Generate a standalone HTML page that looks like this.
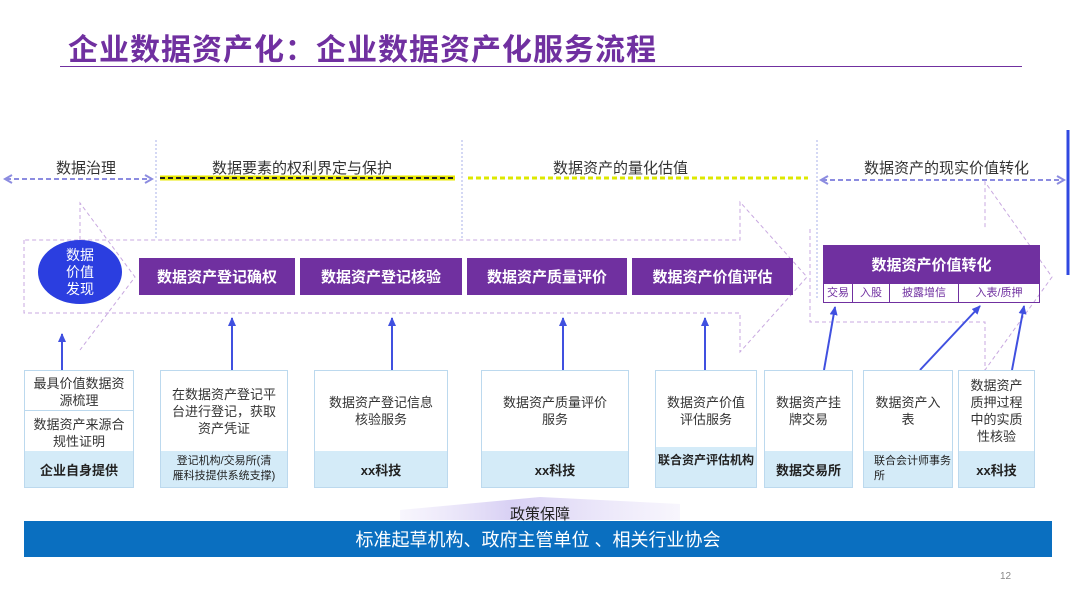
<!DOCTYPE html>
<html><head><meta charset="utf-8"><style>
body{margin:0;width:1080px;height:610px;background:#fff;position:relative;overflow:hidden;font-family:"Liberation Sans","Noto Sans CJK SC",sans-serif}
.a{position:absolute}
.pb{position:absolute;background:#7030a0;color:#fff;font-weight:bold;font-size:15px;display:flex;align-items:center;justify-content:center}
.bx{position:absolute;border:1px solid #bcd9ee;background:#fff;box-sizing:border-box}
.bx .t{position:absolute;left:0;right:0;top:0;bottom:36px;display:flex;align-items:center;justify-content:center;text-align:center;font-size:13px;color:#333;line-height:17px;padding:0 4px}
.bx .f{position:absolute;left:0;right:0;bottom:0;height:36px;background:#d4ebf8;display:flex;align-items:center;justify-content:center;text-align:center;font-size:13px;color:#222;font-weight:bold}
.lab{position:absolute;font-size:15px;color:#333;top:157px}
</style></head><body>
<div class="a" style="left:68px;top:25px;font-size:30px;font-weight:bold;color:#7030a0;letter-spacing:1px">企业数据资产化：企业数据资产化服务流程</div>
<div class="a" style="left:60px;top:66px;width:962px;height:1px;background:#7030a0"></div>

<svg class="a" style="left:0;top:0" width="1080" height="610">
<defs><marker id="ah" markerUnits="userSpaceOnUse" markerWidth="10" markerHeight="10" refX="8" refY="5" orient="auto"><path d="M0,1 L9,5 L0,9 Z" fill="#4050e0"/></marker></defs>
<g stroke="#aab0e8" stroke-dasharray="2,2" stroke-width="1">
<line x1="156" y1="140" x2="156" y2="240"/><line x1="462" y1="140" x2="462" y2="240"/><line x1="817" y1="140" x2="817" y2="300"/></g>
<g stroke="#8c8ce0" stroke-width="2" stroke-dasharray="5,3" fill="none">
<line x1="6" y1="179" x2="150" y2="179"/><line x1="822" y1="180" x2="1062" y2="180"/></g>
<path d="M12,175 L5,179 L12,183 M145,175 L152,179 L145,183 M828,176 L821,180 L828,184 M1057,176 L1064,180 L1057,184" stroke="#8c8ce0" stroke-width="2" fill="none"/>
<line x1="160" y1="178" x2="455" y2="178" stroke="#e8e800" stroke-width="5"/>
<line x1="160" y1="178" x2="455" y2="178" stroke="#222" stroke-width="2" stroke-dasharray="5,3"/>
<line x1="468" y1="178" x2="808" y2="178" stroke="#dde800" stroke-width="3" stroke-dasharray="5,3"/>
<line x1="1068" y1="130" x2="1068" y2="275" stroke="#3048e0" stroke-width="3"/>
<g stroke="#c8a8e0" stroke-width="1" stroke-dasharray="4,3" fill="none">
<path d="M24,240 L24,313 L740,313 L740,352 L807,277 L740,202 L740,240 Z"/>
<path d="M80,240 L80,203 L135,277 L80,350"/>
<path d="M810,229 L810,322 L985,322 L985,370 L1052,277 L985,182 L985,229"/>
</g>
<g stroke="#4050e0" stroke-width="2" marker-end="url(#ah)">
<line x1="62" y1="370" x2="62" y2="334"/><line x1="232" y1="370" x2="232" y2="318"/><line x1="392" y1="370" x2="392" y2="318"/><line x1="563" y1="370" x2="563" y2="318"/><line x1="705" y1="370" x2="705" y2="318"/>
<line x1="824" y1="370" x2="835" y2="307"/><line x1="920" y1="370" x2="980" y2="306"/><line x1="1012" y1="370" x2="1024" y2="306"/></g>
<defs><linearGradient id="pg" x1="0" x2="1"><stop offset="0" stop-color="#e6e0f8" stop-opacity="0.3"/><stop offset="0.4" stop-color="#d8d0f4"/><stop offset="1" stop-color="#e6e0f8" stop-opacity="0.3"/></linearGradient></defs>
<polygon points="400,520 680,520 680,504 540,497 400,510" fill="url(#pg)"/>
</svg>

<div class="lab" style="left:56px">数据治理</div>
<div class="lab" style="left:212px">数据要素的权利界定与保护</div>
<div class="lab" style="left:553px">数据资产的量化估值</div>
<div class="lab" style="left:864px">数据资产的现实价值转化</div>

<div class="a" style="left:38px;top:240px;width:84px;height:64px;border-radius:50%;background:#2b3ee0;color:#fff;font-size:14px;line-height:17px;text-align:center;display:flex;align-items:center;justify-content:center">数据<br>价值<br>发现</div>
<div class="pb" style="left:139px;top:258px;width:156px;height:37px">数据资产登记确权</div>
<div class="pb" style="left:300px;top:258px;width:162px;height:37px">数据资产登记核验</div>
<div class="pb" style="left:467px;top:258px;width:160px;height:37px">数据资产质量评价</div>
<div class="pb" style="left:632px;top:258px;width:161px;height:37px">数据资产价值评估</div>
<div class="pb" style="left:823px;top:245px;width:217px;height:38px">数据资产价值转化</div>
<div class="a" style="left:823px;top:283px;width:217px;height:20px;border:1px solid #7030a0;box-sizing:border-box;font-size:11px;color:#7030a0;display:flex">
<div style="width:28px;text-align:center;border-right:1px solid #7030a0;line-height:18px">交易</div>
<div style="width:36px;text-align:center;border-right:1px solid #7030a0;line-height:18px">入股</div>
<div style="width:68px;text-align:center;border-right:1px solid #7030a0;line-height:18px">披露增信</div>
<div style="flex:1;text-align:center;line-height:18px">入表/质押</div></div>

<div class="bx" style="left:24px;top:370px;width:110px;height:118px"><div style="position:absolute;left:0;right:0;top:0;height:40px;border-bottom:1px solid #bcd9ee;font-size:13px;line-height:17px;text-align:center;padding-top:4px;color:#333;box-sizing:border-box">最具价值数据资<br>源梳理</div><div style="position:absolute;left:0;right:0;top:45px;font-size:13px;line-height:17px;text-align:center;color:#333">数据资产来源合<br>规性证明</div><div class="f">企业自身提供</div></div>
<div class="bx" style="left:160px;top:370px;width:128px;height:118px"><div class="t">在数据资产登记平<br>台进行登记，获取<br>资产凭证</div><div class="f" style="font-weight:normal;font-size:11px;line-height:15px">登记机构/交易所(清<br>雁科技提供系统支撑)</div></div>
<div class="bx" style="left:314px;top:370px;width:134px;height:118px"><div class="t">数据资产登记信息<br>核验服务</div><div class="f">xx科技</div></div>
<div class="bx" style="left:481px;top:370px;width:148px;height:118px"><div class="t">数据资产质量评价<br>服务</div><div class="f">xx科技</div></div>
<div class="bx" style="left:655px;top:370px;width:102px;height:118px"><div class="t">数据资产价值<br>评估服务</div><div class="f" style="font-size:12px;align-items:flex-start;padding-top:4px">联合资产评估机构</div></div>
<div class="bx" style="left:764px;top:370px;width:89px;height:118px"><div class="t">数据资产挂<br>牌交易</div><div class="f">数据交易所</div></div>
<div class="bx" style="left:863px;top:370px;width:90px;height:118px"><div class="t">数据资产入<br>表</div><div class="f" style="font-weight:normal;font-size:11px;text-align:left;justify-content:flex-start;padding-left:10px;line-height:15px">联合会计师事务<br>所</div></div>
<div class="bx" style="left:958px;top:370px;width:77px;height:118px"><div class="t">数据资产<br>质押过程<br>中的实质<br>性核验</div><div class="f">xx科技</div></div>

<div class="a" style="left:510px;top:503px;font-size:15px;color:#222">政策保障</div>
<div class="a" style="left:24px;top:521px;width:1028px;height:36px;background:#0a6fc0;color:#fff;font-size:18px;display:flex;align-items:center;justify-content:center">标准起草机构、政府主管单位 、相关行业协会</div>
<div class="a" style="left:1000px;top:571px;font-size:10px;color:#888">12</div>
</body></html>
